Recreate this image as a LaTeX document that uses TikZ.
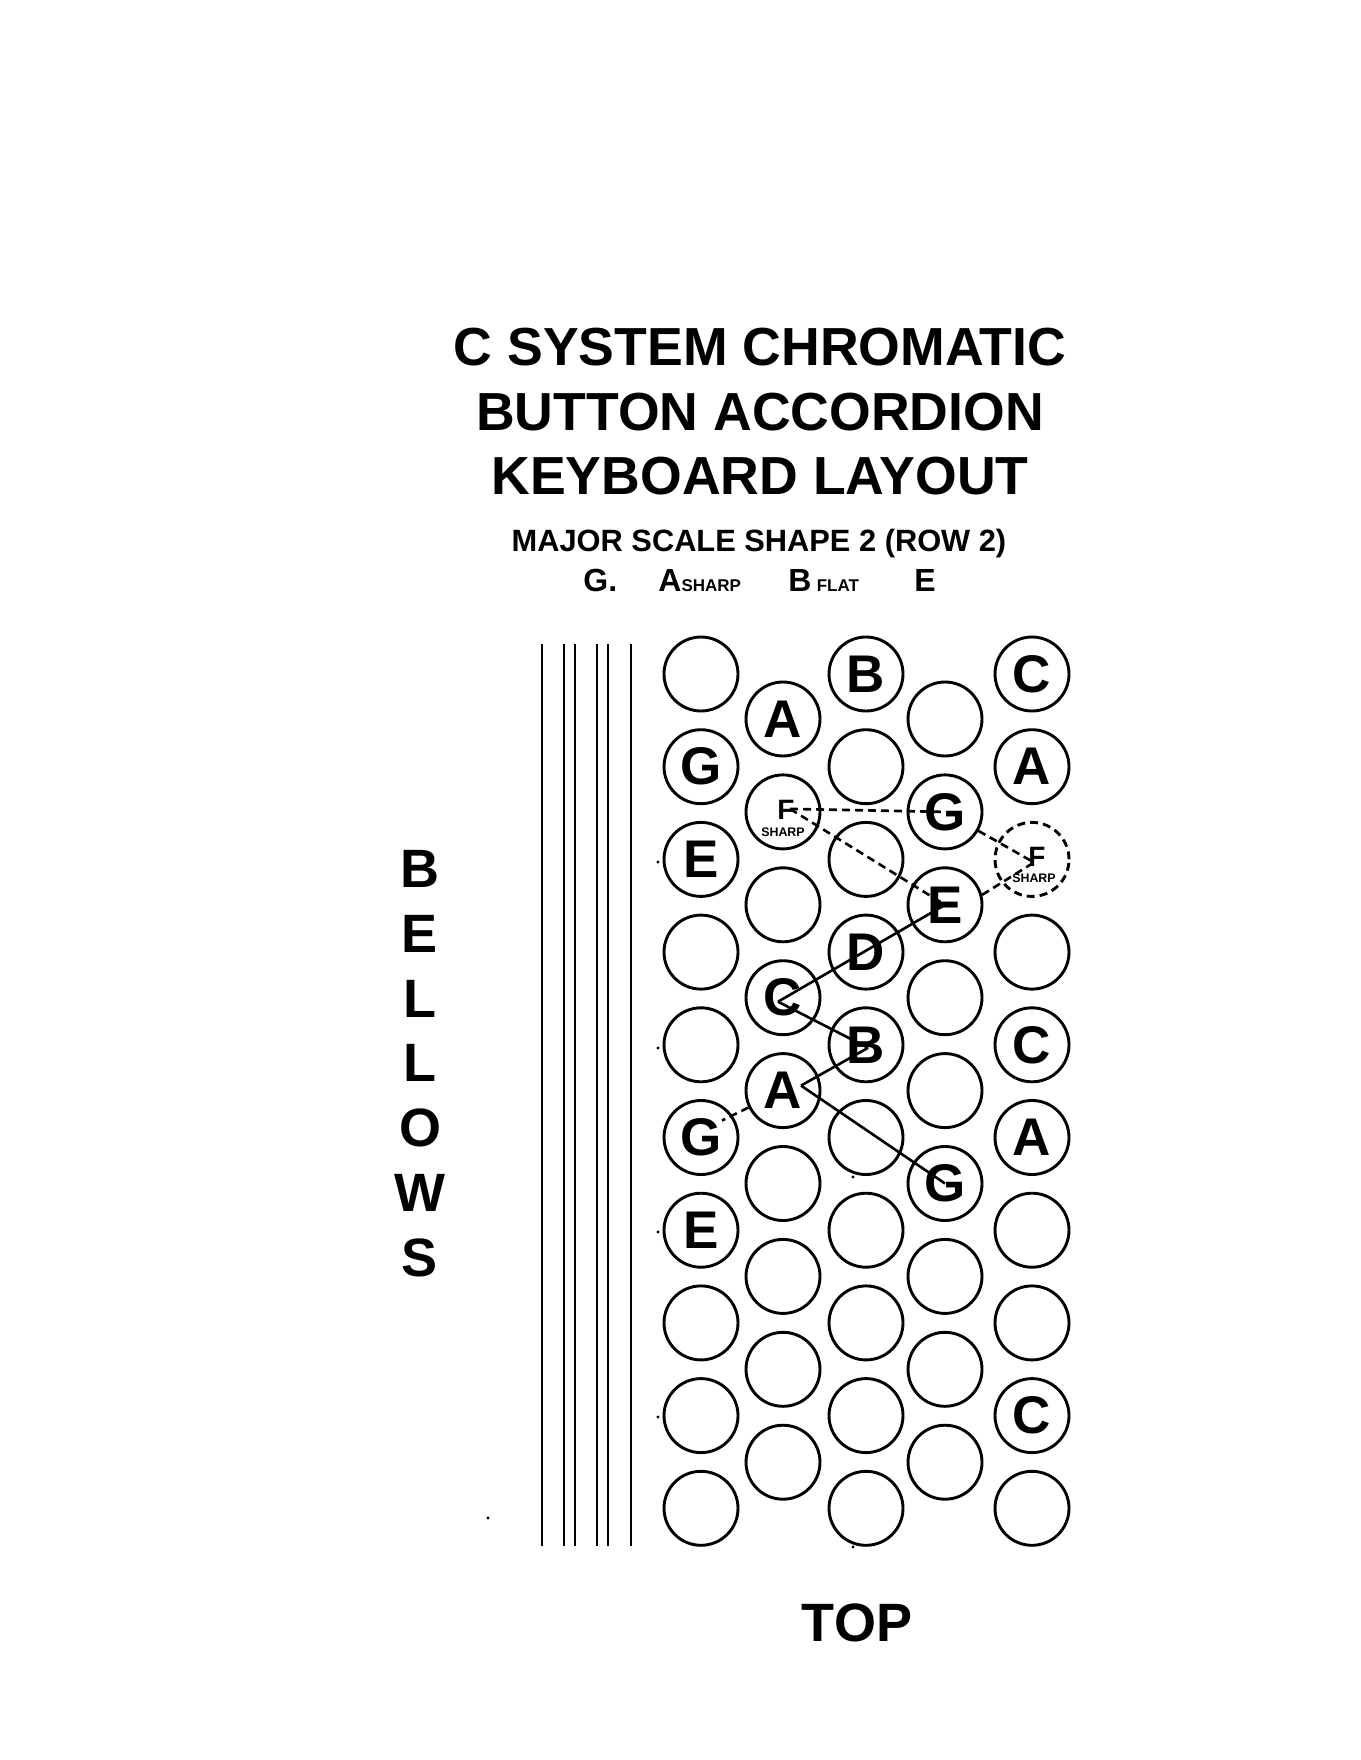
\documentclass[tikz,border=0pt]{standalone}
\usepackage{fontspec}
\setmainfont{Liberation Sans}
\usetikzlibrary{calc}
\begin{document}
\begin{tikzpicture}[x=0.5pt,y=-0.5pt,
  btn/.style={circle, draw, line width=1.45pt, minimum size=37pt, inner sep=0pt,
    font=\fontsize{26.5pt}{28pt}\selectfont\bfseries},
  btndash/.style={btn, dash pattern=on 4pt off 2.5pt},
  conn/.style={line width=1.3pt},
  connd/.style={conn, dash pattern=on 4pt off 2.5pt},
  bellowline/.style={line width=1.45pt},
  ttl/.style={anchor=base, inner sep=0pt, font=\fontsize{26.8pt}{30pt}\selectfont\bfseries},
  sub/.style={anchor=base, inner sep=0pt, font=\fontsize{15.4pt}{17pt}\selectfont\bfseries},
  subw/.style={anchor=base west, inner sep=0pt, font=\fontsize{16pt}{18pt}\selectfont\bfseries},
  big/.style={anchor=base, inner sep=0pt, font=\fontsize{27pt}{30pt}\selectfont\bfseries},
  fsF/.style={anchor=base, inner sep=0pt, font=\fontsize{14pt}{15pt}\selectfont\bfseries},
  fsS/.style={anchor=base, inner sep=0pt, font=\fontsize{6.2pt}{7pt}\selectfont\bfseries},
  speck/.style={fill=black}
]
\useasboundingbox (0,0) rectangle (1360,1760);

% title
\node[ttl] (t1) at (760,365) {C SYSTEM CHROMATIC};
\node[ttl] (t2) at (760,430) {BUTTON ACCORDION};
\node[ttl] (t3) at (760,494) {KEYBOARD LAYOUT};
\node[sub] (s1) at (759,551) {MAJOR SCALE SHAPE 2 (ROW 2)};
\node[subw] (s2a) at (583,591) {G.};
\node[subw] (s2b) at (658,591) {A{\fontsize{8.5pt}{9pt}\selectfont SHARP}};
\node[subw] (s2c) at (788,591) {B\,{\fontsize{8.5pt}{9pt}\selectfont FLAT}};
\node[subw] (s2d) at (914,591) {E};

% bellows side label
\foreach \L [count=\i from 0] in {B,E,L,L,O,W,S}
  \node[big] (bl\i) at (420,{887.5+64.8*\i}) {\L};
\node[big] (top) at (857,1641) {TOP};

% bellows lines
\foreach \x in {542,564,575,597,608,631}
  \draw[bellowline] (\x,644) -- (\x,1546);

% buttons
\foreach \L [count=\k from 0] in {{},G,E,{},{},G,E,{},{},{}}
  \node[btn] (c1r\k) at (701,{674+92.7*\k}) {\L};
\foreach \L [count=\k from 0] in {A,{},{},C,A,{},{},{},{}}
  \node[btn] (c2r\k) at (783,{719+92.9*\k}) {\L};
\foreach \L [count=\k from 0] in {B,{},{},D,B,{},{},{},{},{}}
  \node[btn] (c3r\k) at (866,{674+92.7*\k}) {\L};
\foreach \L [count=\k from 0] in {{},G,E,{},{},G,{},{},{}}
  \node[btn] (c4r\k) at (945,{719+92.9*\k}) {\L};
\foreach \L/\s [count=\k from 0] in {C/btn,A/btn,{}/btndash,{}/btn,C/btn,A/btn,{}/btn,{}/btn,C/btn,{}/btn}
  \node[\s] (c5r\k) at (1032,{674+92.7*\k}) {\L};

% F sharp labels
\node[fsF] (fs1F) at ($(c2r1)+(3,8)$) {F};
\node[fsS] (fs1S) at ($(c2r1)+(0,25)$) {SHARP};
\node[fsF] (fs2F) at ($(c5r2)+(5,7)$) {F};
\node[fsS] (fs2S) at ($(c5r2)+(2,23)$) {SHARP};

% connectors
\coordinate (fsa) at ($(c2r1)+(7,-3)$);
\draw[connd] (fsa) -- (c4r1.center);
\draw[connd] (fsa) -- (c4r2.center);
\coordinate (fsb) at ($(c5r2)+(2,3)$);
\draw[connd] (c4r1) -- (fsb);
\draw[connd] (c4r2.15) -- (fsb);

\coordinate (cC) at ($(c2r3)+(-5,4)$);
\coordinate (bB) at ($(c3r4)+(2,3)$);
\coordinate (aP) at ($(c2r4)+(18,-5)$);
\coordinate (gq) at ($(c1r5)+(21,-17)$);
\draw[conn] (c4r2.center) -- (cC);
\draw[conn] (cC) -- (bB);
\draw[conn] (bB) -- (aP);
\draw[conn] (aP) -- (c4r5.center);
\draw[connd] (c2r4) -- (gq);

% stray specks
\foreach \p in {(658,862),(658,1048),(658,1232),(658,1417),(853,1177),(853,1547),(488,1518)}
  \fill[speck] \p circle[radius=0.8pt];
\end{tikzpicture}
\end{document}
